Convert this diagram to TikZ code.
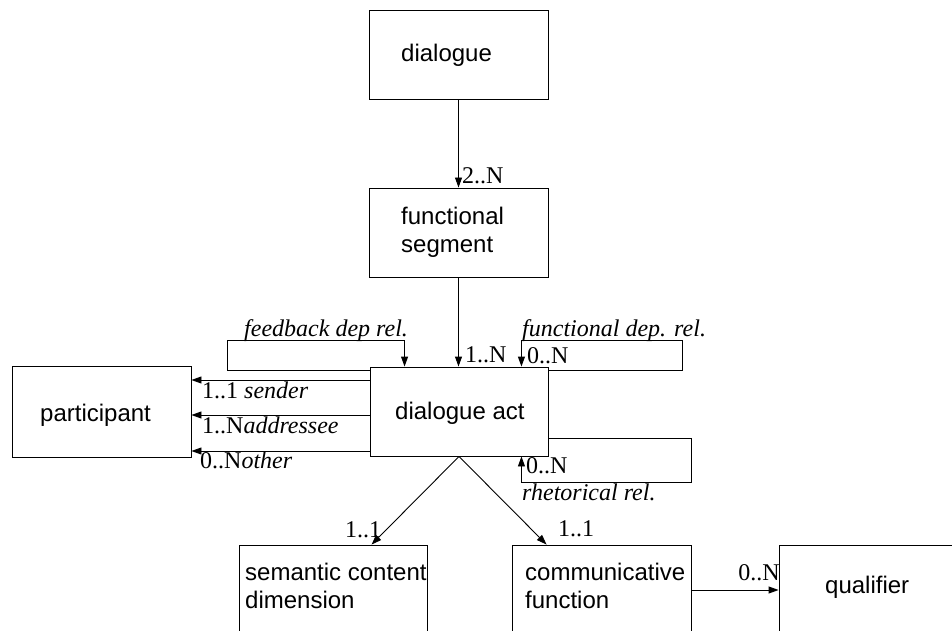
\documentclass[tikz,border=0pt]{standalone}
\usepackage{fontspec}
\setmainfont{Liberation Serif}
\newfontfamily\boxfont{Liberation Sans}
\usetikzlibrary{arrows.meta,calc}
\tikzset{
  box/.style={draw, line width=0.9pt, rectangle, inner sep=0pt},
  boxtext/.style={font=\boxfont\fontsize{24}{28}\selectfont, inner sep=0pt, align=left},
  lbl/.style={font=\fontsize{24}{28}\selectfont, inner sep=0pt},
  ital/.style={font=\fontsize{24}{28}\selectfont\itshape, inner sep=0pt},
  conn/.style={line width=0.9pt, -{Triangle[length=10pt,width=7pt]}},
}
\begin{document}
\begin{tikzpicture}[x=1pt,y=-1pt]
\useasboundingbox (0,0) rectangle (952,631);
\clip (0,0) rectangle (952,631);
% boxes
\node[box, minimum width=179pt, minimum height=89pt] (dlg) at (458.5,54.5) {};
\node[box, minimum width=179pt, minimum height=89pt] (fs) at (458.5,232.5) {};
\node[box, minimum width=178pt, minimum height=89pt] (da) at (459,411.5) {};
\node[box, minimum width=179pt, minimum height=91pt] (part) at (101.5,411.5) {};
\node[box, minimum width=188pt, minimum height=200pt] (sem) at (333,645) {};
\node[box, minimum width=179pt, minimum height=200pt] (comm) at (601.5,645) {};
\node[box, minimum width=250pt, minimum height=200pt] (qual) at (904,645) {};
% box texts
\node[boxtext, anchor=base west] (dlgT) at (401,62) {dialogue};
\node[boxtext, anchor=west] (fsT) at (401,232) {functional\\segment};
\node[boxtext, anchor=base west] (daT) at (395,419) {dialogue act};
\node[boxtext, anchor=base west] (partT) at (40,421) {participant};
\node[boxtext, anchor=west] (semT) at (245,586) {semantic content\\dimension};
\node[boxtext, anchor=west] (commT) at (525,586) {communicative\\function};
\node[boxtext, anchor=base west] (qualT) at (825,593) {qualifier};
% helper coordinates
\coordinate (ys) at (0,380);
\coordinate (ya) at (0,415);
\coordinate (yo) at (0,451);
\coordinate (yq) at (0,590);
% connectors
\draw[conn] (dlg.south) -- (fs.north);
\draw[conn] (fs.south) -- (fs.south |- da.north);
\draw[conn] ($(da.north west)+(0,4)$) -| (227,340) -| ($(da.north west)+(35,0)$);
\draw[conn] ($(da.north east)+(0,4)$) -| (682,340) -| ($(da.north east)+(-27,0)$);
\draw[conn] ($(da.south east)+(0,-18)$) -| (691,482) -| ($(da.south east)+(-27,0)$);
\draw[conn] (da.west |- ys) -- (part.east |- ys);
\draw[conn] (da.west |- ya) -- (part.east |- ya);
\draw[conn] (da.west |- yo) -- (part.east |- yo);
\draw[conn] (da.south) -- ($(sem.north west)+(133,0)$);
\draw[conn] (da.south) -- ($(comm.north west)+(35,0)$);
\draw[conn] (comm.east |- yq) -- (qual.west |- yq);
% labels
\node[lbl, anchor=base west] (l2N) at (462,183) {2..N};
\node[lbl, anchor=base west] (l1N) at (465,362) {1..N};
\node[ital, anchor=base west] (lfb) at (244,336) {feedback dep rel.};
\node[ital, anchor=base west] (lfd) at (522,336) {functional dep. rel.};
\node[lbl, anchor=base west] (lfdn) at (527,363) {0..N};
\node[lbl, anchor=base west] (lsnd) at (202,398) {1..1 \textit{sender}};
\node[lbl, anchor=base west] (ladr) at (202,433) {1..N\textit{addressee}};
\node[lbl, anchor=base west] (loth) at (200,468) {0..N\textit{other}};
\node[lbl, anchor=base west] (lrhn) at (526,473) {0..N};
\node[ital, anchor=base west] (lrh) at (522,500) {rhetorical rel.};
\node[lbl, anchor=base west] (lsem) at (345,537) {1..1};
\node[lbl, anchor=base west] (lcom) at (558,536) {1..1};
\node[lbl, anchor=base east] (lq) at (780,580) {0..N};
\end{tikzpicture}
\end{document}
